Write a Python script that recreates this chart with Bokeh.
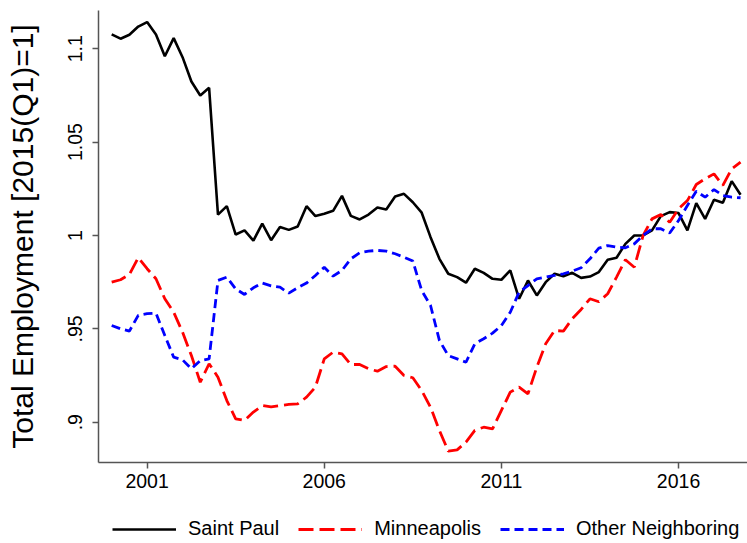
from bokeh.plotting import figure
from bokeh.models import Range1d, FixedTicker, Legend, LegendItem
from bokeh.layouts import column
from bokeh.embed import file_html
from bokeh.resources import INLINE

# quarters 2000Q1 .. 2017Q4
quarters = [f"{y}Q{q}" for y in range(2000, 2018) for q in range(1, 5)]

saint_paul = [
    1.1077, 1.1054, 1.1075, 1.1119, 1.1143, 1.1077, 1.0960, 1.1057, 1.0955, 1.0825,
    1.0750, 1.0791, 1.0112, 1.0157, 1.0005, 1.0027, 0.9973, 1.0063, 0.9975, 1.0045,
    1.0030, 1.0048, 1.0157, 1.0104, 1.0116, 1.0132, 1.0212, 1.0105, 1.0086, 1.0112,
    1.0150, 1.0139, 1.0209, 1.0223, 1.0178, 1.0122, 0.9991, 0.9875, 0.9795, 0.9777,
    0.9747, 0.9822, 0.9800, 0.9768, 0.9763, 0.9813, 0.9661, 0.9759, 0.9679, 0.9750,
    0.9795, 0.9782, 0.9800, 0.9773, 0.9780, 0.9804, 0.9870, 0.9881, 0.9955, 1.0000,
    1.0000, 1.0027, 1.0104, 1.0125, 1.0120, 1.0027, 1.0173, 1.0089, 1.0191, 1.0175,
    1.0291, 1.0218,
]

minneapolis = [
    0.9750, 0.9763, 0.9791, 0.9881, 0.9822, 0.9768, 0.9661, 0.9589, 0.9482, 0.9357,
    0.9214, 0.9313, 0.9241, 0.9116, 0.9018, 0.9009, 0.9054, 0.9089, 0.9082, 0.9089,
    0.9095, 0.9098, 0.9134, 0.9188, 0.9339, 0.9375, 0.9366, 0.9309, 0.9309, 0.9286,
    0.9273, 0.9298, 0.9300, 0.9250, 0.9238, 0.9170, 0.9080, 0.8956, 0.8845, 0.8852,
    0.8893, 0.8956, 0.8973, 0.8964, 0.9063, 0.9161, 0.9188, 0.9152, 0.9295, 0.9420,
    0.9491, 0.9488, 0.9554, 0.9604, 0.9661, 0.9645, 0.9688, 0.9777, 0.9870, 0.9830,
    1.0000, 1.0089, 1.0112, 1.0071, 1.0143, 1.0187, 1.0273, 1.0304, 1.0330, 1.0268,
    1.0357, 1.0393,
]

other_neighboring = [
    0.9518, 0.9500, 0.9488, 0.9572, 0.9581, 0.9584, 0.9464, 0.9348, 0.9334, 0.9286,
    0.9330, 0.9339, 0.9759, 0.9777, 0.9714, 0.9684, 0.9720, 0.9745, 0.9730, 0.9723,
    0.9691, 0.9720, 0.9745, 0.9786, 0.9830, 0.9782, 0.9813, 0.9875, 0.9907, 0.9916,
    0.9920, 0.9916, 0.9902, 0.9884, 0.9863, 0.9705, 0.9625, 0.9438, 0.9357, 0.9339,
    0.9321, 0.9420, 0.9447, 0.9477, 0.9518, 0.9589, 0.9696, 0.9732, 0.9768, 0.9777,
    0.9786, 0.9795, 0.9809, 0.9827, 0.9875, 0.9932, 0.9946, 0.9938, 0.9934, 0.9955,
    1.0000, 1.0036, 1.0036, 1.0013, 1.0080, 1.0161, 1.0237, 1.0205, 1.0246, 1.0214,
    1.0205, 1.0202,
]

series_names = ["Saint Paul", "Minneapolis", "Other Neighboring"]
x_ticks = [2001, 2006, 2011, 2016]
y_ticks = [0.9, 0.95, 1.0, 1.05, 1.1]
y_tick_labels = {0.9: ".9", 0.95: ".95", 1.0: "1", 1.05: "1.05", 1.1: "1.1"}

x = [int(s[:4]) + (int(s[-1]) - 1) / 4 for s in quarters]

FONT = "Liberation Sans"
styles = [
    dict(line_color="black", line_width=2.6),
    dict(line_color="#ff0000", line_width=2.8, line_dash="15 6"),
    dict(line_color="#0000ff", line_width=2.8, line_dash="9 5"),
]

p = figure(width=747, height=500, output_backend="svg", toolbar_location=None,
           x_range=Range1d(1999.628, 2017.946), y_range=Range1d(0.87841, 1.1205),
           min_border_left=98, min_border_right=0, min_border_top=10, min_border_bottom=38)
p.outline_line_color = None
p.xgrid.visible = False
p.ygrid.visible = False

for ys, st in zip([saint_paul, minneapolis, other_neighboring], styles):
    p.line(x, ys, **st)

for ax in (p.xaxis[0], p.yaxis[0]):
    ax.axis_line_color = "#555555"
    ax.axis_line_width = 1.5
    ax.major_tick_line_color = "#555555"
    ax.major_tick_line_width = 1.5
    ax.major_tick_out = 6
    ax.major_tick_in = 0
    ax.minor_tick_line_color = None
    ax.major_label_text_font = FONT
    ax.major_label_text_font_size = "19.5px"
    ax.major_label_text_color = "black"

p.xaxis.ticker = FixedTicker(ticks=x_ticks)
p.xaxis.major_label_standoff = 5
p.yaxis.ticker = FixedTicker(ticks=y_ticks)
p.yaxis.major_label_overrides = y_tick_labels
p.yaxis.major_label_orientation = "vertical"
p.yaxis.major_label_standoff = 10
p.yaxis.axis_label = "Total Employment [2015(Q1)=1]"
p.yaxis.axis_label_text_font = FONT
p.yaxis.axis_label_text_font_size = "30px"
p.yaxis.axis_label_text_font_style = "normal"
p.yaxis.axis_label_text_color = "black"
p.yaxis.axis_label_standoff = 27

# legend strip below the chart (its frame is aligned with the chart frame)
lg = figure(width=747, height=43, output_backend="svg", toolbar_location=None,
            x_range=Range1d(0, 1), y_range=Range1d(0, 1),
            min_border_left=0, min_border_right=0, min_border_top=0, min_border_bottom=0)
lg.outline_line_color = None
lg.axis.visible = False
lg.grid.visible = False
items = []
for name, st in zip(series_names, styles):
    r = lg.line([-5, -4], [-5, -4], **st)
    items.append(LegendItem(label=name, renderers=[r]))

legend = Legend(items=items, orientation="horizontal", location=(14, 3))
legend.label_text_font = FONT
legend.label_text_font_size = "20px"
legend.label_text_color = "black"
legend.glyph_width = 64
legend.glyph_height = 20
legend.label_standoff = 12
legend.spacing = 19
legend.padding = 2
legend.margin = 0
legend.border_line_color = None
legend.background_fill_alpha = 0
lg.add_layout(legend, "center")

open("out.html", "w").write(file_html(column(p, lg, spacing=0), INLINE))
